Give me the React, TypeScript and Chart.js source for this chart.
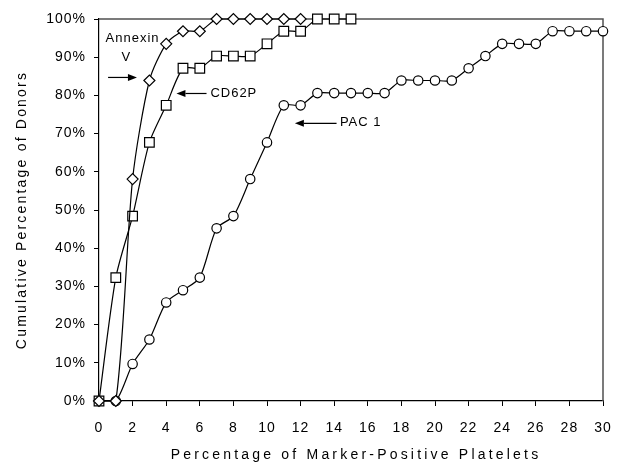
import React, { useEffect, useRef } from 'react';
import { Chart, registerables } from 'chart.js';

Chart.register(...registerables);

// ---- data ----
const annexinX = [0, 1, 2, 3, 4, 5, 6, 7, 8, 9, 10, 11, 12];
const annexinV = [0, 0, 58.1, 83.9, 93.5, 96.8, 96.8, 100, 100, 100, 100, 100, 100];

const cd62pX = [0, 1, 2, 3, 4, 5, 6, 7, 8, 9, 10, 11, 12, 13, 14, 15];
const cd62p = [0, 32.3, 48.4, 67.7, 77.4, 87.1, 87.1, 90.3, 90.3, 90.3, 93.5, 96.8, 96.8, 100, 100, 100];

const pac1X = [0, 1, 2, 3, 4, 5, 6, 7, 8, 9, 10, 11, 12, 13, 14, 15, 16, 17, 18, 19, 20, 21, 22, 23, 24, 25, 26, 27, 28, 29, 30];
const pac1 = [0, 0, 9.7, 16.1, 25.8, 29.0, 32.3, 45.2, 48.4, 58.1, 67.7, 77.4, 77.4, 80.6, 80.6, 80.6, 80.6, 80.6, 83.9, 83.9, 83.9, 83.9, 87.1, 90.3, 93.5, 93.5, 93.5, 96.8, 96.8, 96.8, 96.8];

const xTickValues = [0, 2, 4, 6, 8, 10, 12, 14, 16, 18, 20, 22, 24, 26, 28, 30];
const yTickValues = [0, 10, 20, 30, 40, 50, 60, 70, 80, 90, 100];

const xTitle = 'Percentage of Marker-Positive Platelets';
const yTitle = 'Cumulative Percentage of Donors';

const labelTexts = ['Annexin', 'V', 'CD62P', 'PAC 1'];
const labelX = [2.0, 1.63, 6.63, 14.34];
const labelY = [95.0, 90.0, 80.4, 73.0];
const labelAlign = ['center', 'center', 'left', 'left'];

const arrowFromX = [0.54, 6.4, 14.14];
const arrowToX = [2.26, 4.61, 11.66];
const arrowY = [84.7, 80.5, 72.7];

const FONT = '"Liberation Sans", Arial, sans-serif';

const zip = (xs: number[], ys: number[]) => xs.map((x, i) => ({ x, y: ys[i] }));

const decorPlugin = {
  id: 'decor',
  beforeDraw(chart: any) {
    const ctx = chart.ctx;
    ctx.letterSpacing = '1px';
  },
  beforeDatasetsDraw(chart: any) {
    const { ctx, chartArea } = chart;
    ctx.save();
    ctx.strokeStyle = '#505050';
    ctx.lineWidth = 1.5;
    ctx.beginPath();
    ctx.moveTo(chartArea.left, chartArea.top);
    ctx.lineTo(chartArea.right, chartArea.top);
    ctx.lineTo(chartArea.right, chartArea.bottom);
    ctx.stroke();
    ctx.restore();
  },
  afterDraw(chart: any) {
    const { ctx, chartArea, scales } = chart;
    const xs = scales.x;
    const ys = scales.y;
    ctx.save();
    ctx.fillStyle = '#000';
    // axis titles
    ctx.font = `14px ${FONT}`;
    ctx.letterSpacing = '3.2px';
    ctx.textAlign = 'center';
    ctx.textBaseline = 'middle';
    ctx.fillText(xTitle, (chartArea.left + chartArea.right) / 2 + 5, 455);
    ctx.save();
    ctx.translate(22, (chartArea.top + chartArea.bottom) / 2);
    ctx.rotate(-Math.PI / 2);
    ctx.letterSpacing = '2.2px';
    ctx.fillText(yTitle, 0, 0);
    ctx.restore();

    // annotation labels
    ctx.font = `13px ${FONT}`;
    ctx.letterSpacing = '1px';
    labelTexts.forEach((t, i) => {
      ctx.textAlign = labelAlign[i];
      ctx.fillText(t, xs.getPixelForValue(labelX[i]), ys.getPixelForValue(labelY[i]));
    });

    // arrows
    ctx.strokeStyle = '#000';
    ctx.lineWidth = 1.2;
    arrowY.forEach((yv, i) => {
      const x1 = xs.getPixelForValue(arrowFromX[i]);
      const x2 = xs.getPixelForValue(arrowToX[i]);
      const y = ys.getPixelForValue(yv);
      const dir = Math.sign(x2 - x1);
      const head = 9;
      ctx.beginPath();
      ctx.moveTo(x1, y);
      ctx.lineTo(x2 - dir * head, y);
      ctx.stroke();
      ctx.beginPath();
      ctx.moveTo(x2, y);
      ctx.lineTo(x2 - dir * head, y - 3.5);
      ctx.lineTo(x2 - dir * head, y + 3.5);
      ctx.closePath();
      ctx.fill();
    });
    ctx.restore();
  },
};

export default function App() {
  const ref = useRef<HTMLCanvasElement | null>(null);

  useEffect(() => {
    document.body.style.margin = '0';
    const canvas = ref.current;
    if (!canvas) return;
    const common = {
      borderColor: '#000',
      borderWidth: 1.2,
      pointBackgroundColor: '#fff',
      pointBorderColor: '#000',
      pointBorderWidth: 1.2,
      tension: 0.25,
      fill: false,
      clip: false as any,
    };
    const chart = new Chart(canvas, {
      type: 'line',
      data: {
        datasets: [
          { ...common, label: 'Annexin V', data: zip(annexinX, annexinV), pointStyle: 'rectRot', pointRadius: 5.5 },
          { ...common, label: 'CD62P', data: zip(cd62pX, cd62p), pointStyle: 'rect', pointRadius: 6.8 },
          { ...common, label: 'PAC 1', data: zip(pac1X, pac1), pointStyle: 'circle', pointRadius: 4.7 },
        ],
      },
      options: {
        animation: false,
        responsive: false,
        devicePixelRatio: 1,
        layout: { padding: { top: 19, right: 15, left: 0, bottom: 0 } },
        plugins: { legend: { display: false }, tooltip: { enabled: false } },
        scales: {
          x: {
            type: 'linear',
            min: 0,
            max: 30,
            afterFit: (s: any) => { s.height = 65; s.paddingLeft = 0; s.paddingRight = 0; },
            afterBuildTicks: (s: any) => { s.ticks = xTickValues.map((v) => ({ value: v })); },
            ticks: { color: '#000', font: { family: FONT, size: 14 }, padding: 14, maxRotation: 0, autoSkip: false },
            grid: { drawOnChartArea: false, drawTicks: true, tickLength: 5, color: '#000', lineWidth: 1 },
            border: { display: true, color: '#000', width: 1.2 },
          },
          y: {
            type: 'linear',
            min: 0,
            max: 100,
            afterFit: (s: any) => { s.width = 99; s.paddingTop = 0; s.paddingBottom = 0; },
            afterBuildTicks: (s: any) => { s.ticks = yTickValues.map((v) => ({ value: v })); },
            ticks: { color: '#000', font: { family: FONT, size: 14 }, padding: 8, callback: (v: any) => `${v}%` },
            grid: { drawOnChartArea: false, drawTicks: true, tickLength: 5, color: '#000', lineWidth: 1 },
            border: { display: true, color: '#000', width: 1.2 },
          },
        },
      },
      plugins: [decorPlugin],
    });
    return () => chart.destroy();
  }, []);

  return <canvas ref={ref} width={618} height={466} style={{ display: 'block', width: 618, height: 466 }} />;
}
